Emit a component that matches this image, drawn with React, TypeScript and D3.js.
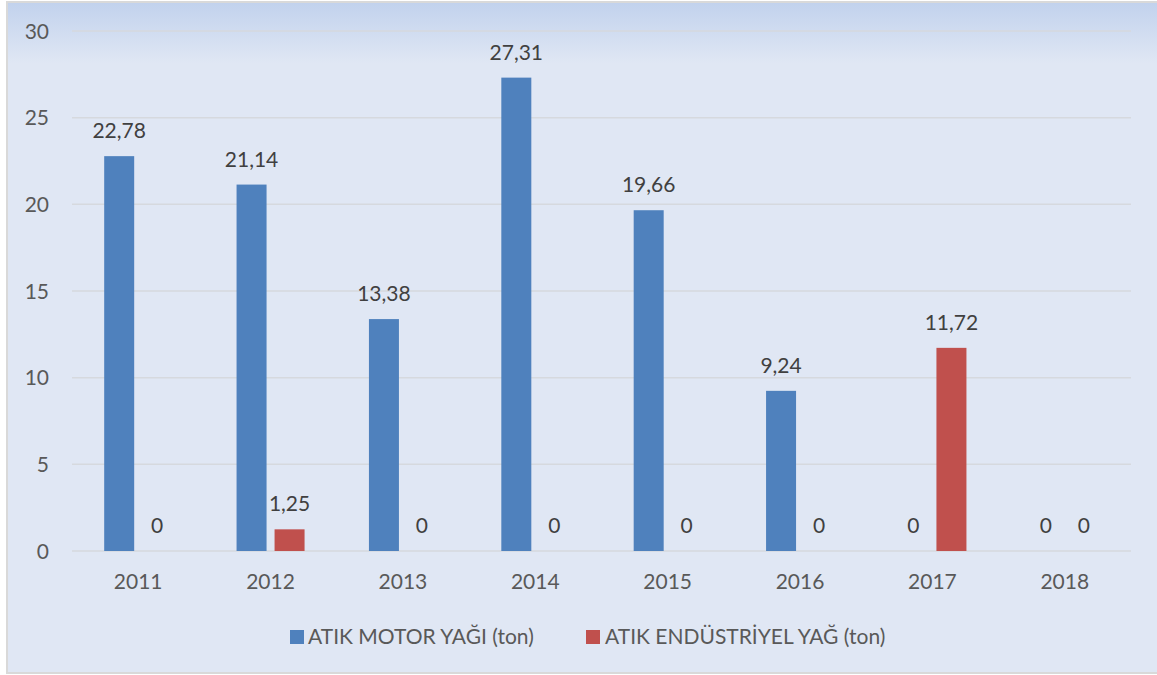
import React from "react";
import * as d3 from "d3";

const categories = ["2011", "2012", "2013", "2014", "2015", "2016", "2017", "2018"];
const seriesNames = ["ATIK MOTOR YAĞI (ton)", "ATIK ENDÜSTRİYEL YAĞ (ton)"];
const motorValues = [22.78, 21.14, 13.38, 27.31, 19.66, 9.24, 0, 0];
const industrialValues = [0, 1.25, 0, 0, 0, 0, 11.72, 0];
const yTicks = [0, 5, 10, 15, 20, 25, 30];
const colors = ["#4f81bd", "#c0504d"];

const W = 1157;
const H = 675;
const plotLeft = 72;
const plotRight = 1131;
const plotTop = 31;
const plotBottom = 551;
const font = "Lato, 'Open Sans', sans-serif";
const fs = 21;

export default function App() {
  const x0 = d3.scaleBand<string>().domain(categories).range([plotLeft, plotRight]).padding(0);
  const x1 = d3.scaleBand<string>().domain(["0", "1"]).range([0, 68]).paddingInner(0.2105);
  const y = d3.scaleLinear().domain([0, 30]).range([plotBottom, plotTop]);
  const series = [motorValues, industrialValues];
  const fmt = (v: number) => (v === 0 ? "0" : d3.format(".2f")(v).replace(".", ","));

  return (
    <svg width={W} height={H} style={{ position: "absolute", left: 0, top: 0, display: "block" }}>
      <defs>
        <linearGradient id="topGrad" x1="0" y1="0" x2="0" y2="1">
          <stop offset="0" stopColor="#c2d2ed" />
          <stop offset="1" stopColor="#e0e7f4" />
        </linearGradient>
      </defs>
      <rect x={7} y={2} width={W} height={671} fill="#e0e7f4" stroke="#d9d9d9" strokeWidth={2} />
      <rect x={8} y={3} width={W} height={60} fill="url(#topGrad)" />
      {yTicks.map((t) => (
        <g key={t}>
          <line x1={plotLeft} x2={plotRight} y1={y(t)} y2={y(t)} stroke="#d6d9de" strokeWidth={1.5} />
          <text x={49} y={y(t) + 7.5} textAnchor="end" fontFamily={font} fontSize={fs} fill="#595959">
            {t}
          </text>
        </g>
      ))}
      {categories.map((c, i) => {
        const cx = (x0(c) as number) + x0.bandwidth() / 2;
        const gx = cx - 34;
        return (
          <g key={c}>
            {series.map((vals, s) => {
              const bx = gx + (x1(String(s)) as number);
              const v = vals[i];
              return (
                <g key={s}>
                  {v > 0 && (
                    <rect x={bx} y={y(v)} width={x1.bandwidth()} height={y(0) - y(v)} fill={colors[s]} />
                  )}
                  <text
                    x={bx + x1.bandwidth() / 2}
                    y={y(v) - 18}
                    textAnchor="middle"
                    fontFamily={font}
                    fontSize={fs}
                    fill="#404040"
                  >
                    {fmt(v)}
                  </text>
                </g>
              );
            })}
            <text x={cx} y={589} textAnchor="middle" fontFamily={font} fontSize={fs} fill="#595959">
              {c}
            </text>
          </g>
        );
      })}
      <g>
        <rect x={290} y={630} width={14} height={14} fill={colors[0]} />
        <text x={308} y={644} fontFamily={font} fontSize={fs} fill="#595959">
          {seriesNames[0]}
        </text>
        <rect x={586} y={630} width={14} height={14} fill={colors[1]} />
        <text x={605} y={644} fontFamily={font} fontSize={fs} fill="#595959">
          {seriesNames[1]}
        </text>
      </g>
    </svg>
  );
}
